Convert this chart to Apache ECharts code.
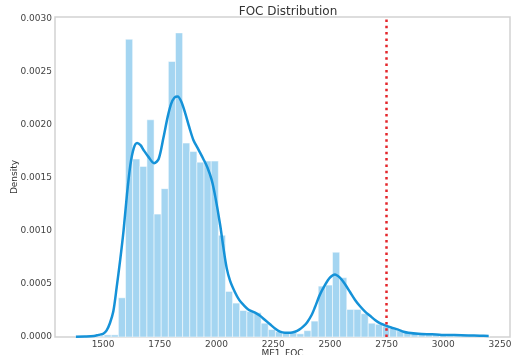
<!DOCTYPE html>
<html>
<head>
<meta charset="utf-8">
<script src="https://cdn.jsdelivr.net/npm/echarts@6/dist/echarts.min.js"></script>
<style>
  html, body { margin: 0; padding: 0; background: #fff; }
  #chart { width: 515px; height: 355px; }
</style>
</head>
<body>
<div id="chart"></div>
<script>
// histogram bins (ME1_FOC), density per bin
const binStart = 1378.6;
const binWidth = 31.47;
const binDensity = [
  0.00001, 0.00001, 0.00001, 0.00001, 0.00002, 0.00002, 0.00037, 0.00281, 0.00168, 0.00161,
  0.00205, 0.00116, 0.0014, 0.0026, 0.00287, 0.00183, 0.00175, 0.00165, 0.00166, 0.00166,
  0.00096, 0.00043, 0.00032, 0.00025, 0.00024, 0.00023, 0.00013, 0.00007, 0.00005, 0.00004,
  0.00004, 0.00003, 0.00006, 0.00015, 0.00048, 0.00049, 0.0008, 0.00056, 0.00026, 0.00026,
  0.00022, 0.00013, 0.00012, 0.0001, 0.00008, 0.00006, 0.00004, 0.00003, 0.00003, 0.00002,
  0.00002, 0.00002, 0.00001, 0.00001, 0.00001, 0.00001, 0.00001, 0.00001
];

// KDE curve
const kdeX = [1380, 1420, 1460, 1480, 1500, 1515, 1530, 1545, 1560, 1575, 1590, 1605, 1620, 1635, 1650,
  1665, 1680, 1700, 1725, 1745, 1766, 1785, 1800, 1815, 1829, 1845, 1861, 1880, 1898, 1920,
  1942, 1960, 1979, 1995, 2016, 2030, 2045, 2060, 2082, 2100, 2120, 2140, 2170, 2192, 2214,
  2236, 2258, 2280, 2302, 2325, 2346, 2365, 2383, 2400, 2420, 2434, 2456, 2478, 2500, 2522,
  2544, 2566, 2590, 2611, 2633, 2655, 2677, 2699, 2720, 2743, 2770, 2801, 2825, 2846, 2890,
  2950, 2993, 3050, 3110, 3160, 3200];
const kdeY = [0.000003, 0.000005, 0.00001, 0.00002, 0.00003, 0.00006, 0.00013, 0.00024, 0.00047, 0.00072,
  0.001, 0.00134, 0.00162, 0.00178, 0.00183, 0.00181, 0.00176, 0.0017, 0.00164, 0.00168,
  0.00188, 0.00208, 0.0022, 0.00226, 0.00227, 0.00222, 0.00212, 0.00198, 0.00186, 0.00177,
  0.00168, 0.0016, 0.00148, 0.00132, 0.00106, 0.00085, 0.00065, 0.00053, 0.00042, 0.00035,
  0.0003, 0.00026, 0.00023, 0.0002, 0.00016, 0.00012, 0.00008, 0.00005, 0.00004, 0.00004,
  0.00005, 0.00007, 0.0001, 0.00014, 0.00021, 0.00028, 0.0004, 0.00049, 0.00056, 0.00059,
  0.00056, 0.0005, 0.00042, 0.00035, 0.00029, 0.00024, 0.0002, 0.00016, 0.00013, 0.00011,
  0.00009, 0.00007, 0.00005, 0.00004, 0.00003, 0.000025, 0.00002, 0.000018, 0.000015, 0.000012,
  0.00001];

const xTicks = [1500, 1750, 2000, 2250, 2500, 2750, 3000, 3250];
const yTicks = [0, 0.0005, 0.001, 0.0015, 0.002, 0.0025, 0.003];
const limitLine = 2750;

let chart = echarts.init(document.getElementById('chart'));

let histData = binDensity.map((d, i) => [binStart + i * binWidth, binStart + (i + 1) * binWidth, d]);
let kdeData = kdeX.map((x, i) => [x, kdeY[i]]);

const font = 'DejaVu Sans';

let option = {
  animation: false,
  title: {
    text: 'FOC Distribution',
    left: 283,
    textAlign: 'center',
    top: 1,
    textStyle: { fontFamily: font, fontSize: 12, fontWeight: 'normal', color: '#333' }
  },
  grid: {
    left: 55, right: 5, top: 17, bottom: 18,
    outerBoundsMode: 'none',
    containLabel: false,
    show: true, borderColor: '#d2d2d2', borderWidth: 1.5, backgroundColor: '#fff'
  },
  xAxis: {
    type: 'value',
    min: 1288, max: 3294,
    name: 'ME1_FOC',
    nameLocation: 'middle',
    nameGap: 12,
    nameMoveOverlap: false,
    nameTextStyle: { fontFamily: font, fontSize: 9, color: '#333' },
    axisLine: { show: false },
    axisTick: { show: false },
    splitLine: { show: false },
    axisLabel: {
      customValues: xTicks,
      margin: 3,
      formatter: v => String(v),
      fontFamily: font, fontSize: 9, color: '#444'
    }
  },
  yAxis: {
    type: 'value',
    min: 0, max: 0.00302,
    name: 'Density',
    nameLocation: 'middle',
    nameGap: 36,
    nameMoveOverlap: false,
    nameTextStyle: { fontFamily: font, fontSize: 9, color: '#333' },
    axisLine: { show: false },
    axisTick: { show: false },
    splitLine: { show: false },
    axisLabel: {
      customValues: yTicks,
      margin: 3,
      formatter: v => v.toFixed(4),
      fontFamily: font, fontSize: 9, color: '#444'
    }
  },
  series: [
    {
      type: 'custom',
      name: 'hist',
      data: histData,
      renderItem: function (params, api) {
        let p0 = api.coord([api.value(0), api.value(2)]);
        let p1 = api.coord([api.value(1), 0]);
        return {
          type: 'rect',
          shape: { x: p0[0], y: p0[1], width: p1[0] - p0[0], height: p1[1] - p0[1] },
          style: { fill: '#a4d5f1', stroke: '#ffffff', lineWidth: 0.5 }
        };
      },
      encode: { x: [0, 1], y: 2 }
    },
    {
      type: 'line',
      name: 'kde',
      data: kdeData,
      showSymbol: false,
      smooth: 0.3,
      lineStyle: { color: '#1592d8', width: 2.5 },
      z: 3,
      markLine: {
        silent: true,
        symbol: 'none',
        label: { show: false },
        lineStyle: { color: '#e3262b', width: 2.5, type: [2.5, 3.8] },
        data: [{ xAxis: limitLine }]
      }
    }
  ]
};

option && chart.setOption(option);
</script>
</body>
</html>
